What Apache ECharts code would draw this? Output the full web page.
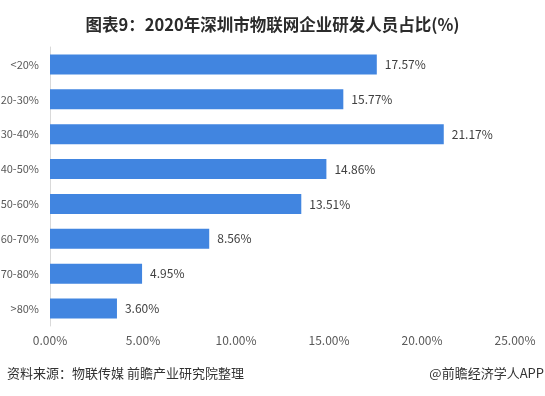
<!DOCTYPE html>
<html>
<head>
<meta charset="utf-8">
<script src="https://cdn.jsdelivr.net/npm/echarts@6/dist/echarts.min.js"></script>
<style>
  html, body { margin: 0; padding: 0; background: #ffffff; }
  #chart { width: 545px; height: 396px; }
</style>
</head>
<body>
<div id="chart"></div>
<script>
const categories = ['<20%', '20-30%', '30-40%', '40-50%', '50-60%', '60-70%', '70-80%', '>80%'];
const shares = [17.57, 15.77, 21.17, 14.86, 13.51, 8.56, 4.95, 3.60];
const axisMax = 25;
const axisStep = 5;

const chart = echarts.init(document.getElementById('chart'));
chart.setOption({
  backgroundColor: '#ffffff',
  textStyle: { fontFamily: '"Noto Sans CJK SC", "Noto Sans", sans-serif' },
  title: {
    text: '图表9：2020年深圳市物联网企业研发人员占比(%)',
    left: 'center',
    top: 11,
    textStyle: { fontSize: 16.5, fontWeight: 'bold', color: '#2b2b2b' }
  },
  grid: { left: 50, right: 30, top: 47, bottom: 70, containLabel: false, outerBoundsMode: 'none' },
  xAxis: {
    type: 'value',
    min: 0,
    max: axisMax,
    interval: axisStep,
    axisLine: { show: false },
    axisTick: { show: false },
    splitLine: { show: false },
    axisLabel: {
      color: '#595959',
      fontSize: 12,
      margin: 8,
      formatter: v => v.toFixed(2) + '%'
    }
  },
  yAxis: {
    type: 'category',
    data: categories,
    inverse: true,
    axisLine: { show: true, lineStyle: { color: '#d9d9d9', width: 1 } },
    axisTick: { show: false },
    axisLabel: { color: '#595959', fontSize: 11, margin: 11 }
  },
  series: [{
    type: 'bar',
    data: shares,
    barWidth: 20,
    itemStyle: { color: '#4185E0' },
    label: {
      show: true,
      position: 'right',
      distance: 8,
      color: '#404040',
      fontSize: 12,
      formatter: p => p.value.toFixed(2) + '%'
    }
  }],
  graphic: [
    {
      type: 'text',
      left: 7,
      top: 367,
      style: { text: '资料来源：物联传媒 前瞻产业研究院整理', fill: '#333333', fontSize: 13, fontFamily: '"Noto Sans CJK SC", sans-serif' }
    },
    {
      type: 'text',
      right: 1,
      top: 367,
      style: { text: '@前瞻经济学人APP', fill: '#333333', fontSize: 13, fontFamily: '"Noto Sans CJK SC", sans-serif' }
    }
  ]
});
</script>
</body>
</html>
